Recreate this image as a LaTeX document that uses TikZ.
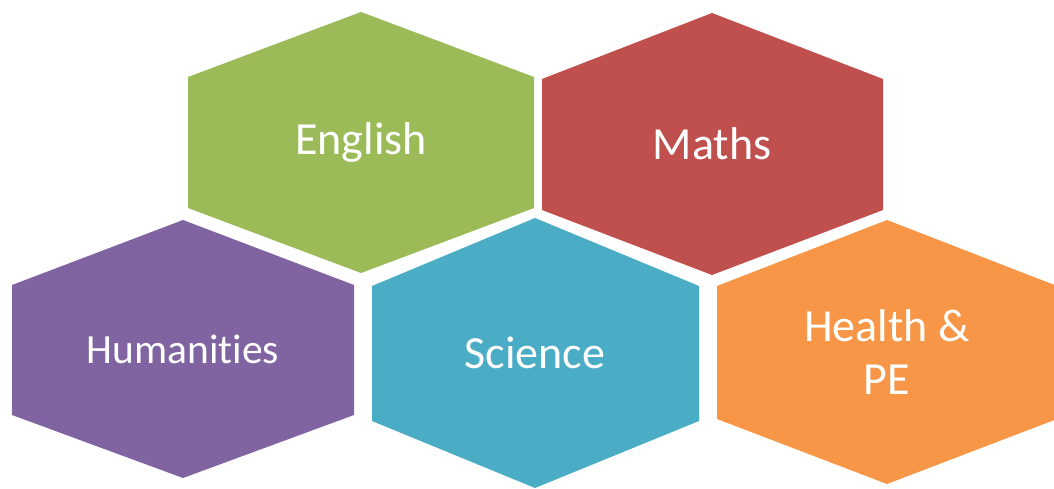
\documentclass[tikz,border=0pt]{standalone}
\usepackage{fontspec}
\setmainfont{Carlito}[Ligatures=NoCommon]
\usepackage{tikz}

\definecolor{englishgreen}{HTML}{9BBB59}
\definecolor{mathsred}{HTML}{C0504D}
\definecolor{humpurple}{HTML}{8064A2}
\definecolor{sciblue}{HTML}{4BACC6}
\definecolor{peorange}{HTML}{F79646}

\begin{document}
\begin{tikzpicture}[x=1pt,y=1pt]
			\tikzstyle{every node}+=[inner sep=0pt]
			\tikzstyle{subject}=[text=white, align=center, font=\fontsize{46}{53}\selectfont]
			\useasboundingbox (0,0) rectangle (1054,-489);
			\fill [englishgreen] (361,-12) -- (534,-77) -- (534,-208) -- (361,-273) -- (188,-208) -- (188,-77) -- cycle;
			\node [subject] (english) at (361,-142.5) {English};
			\fill [mathsred] (712,-13) -- (883,-79) -- (883,-210) -- (712,-275) -- (542,-210) -- (542,-79) -- cycle;
			\node [subject] (maths) at (712,-144) {Maths};
			\fill [humpurple] (183,-220) -- (354,-285) -- (354,-415) -- (183,-478) -- (12,-415) -- (12,-285) -- cycle;
			\node [subject, font=\fontsize{41.5}{50}\selectfont] (humanities) at (183,-349) {Humanities};
			\fill [sciblue] (535,-218) -- (699,-286) -- (699,-421) -- (535,-488) -- (372,-421) -- (372,-286) -- cycle;
			\node [subject] (science) at (535,-353) {Science};
			\fill [peorange] (887,-220) -- (1057,-286) -- (1057,-419) -- (887,-484) -- (717,-419) -- (717,-286) -- cycle;
			\node [subject] (health) at (887,-352) {Health \&\\PE};
\end{tikzpicture}
\end{document}
